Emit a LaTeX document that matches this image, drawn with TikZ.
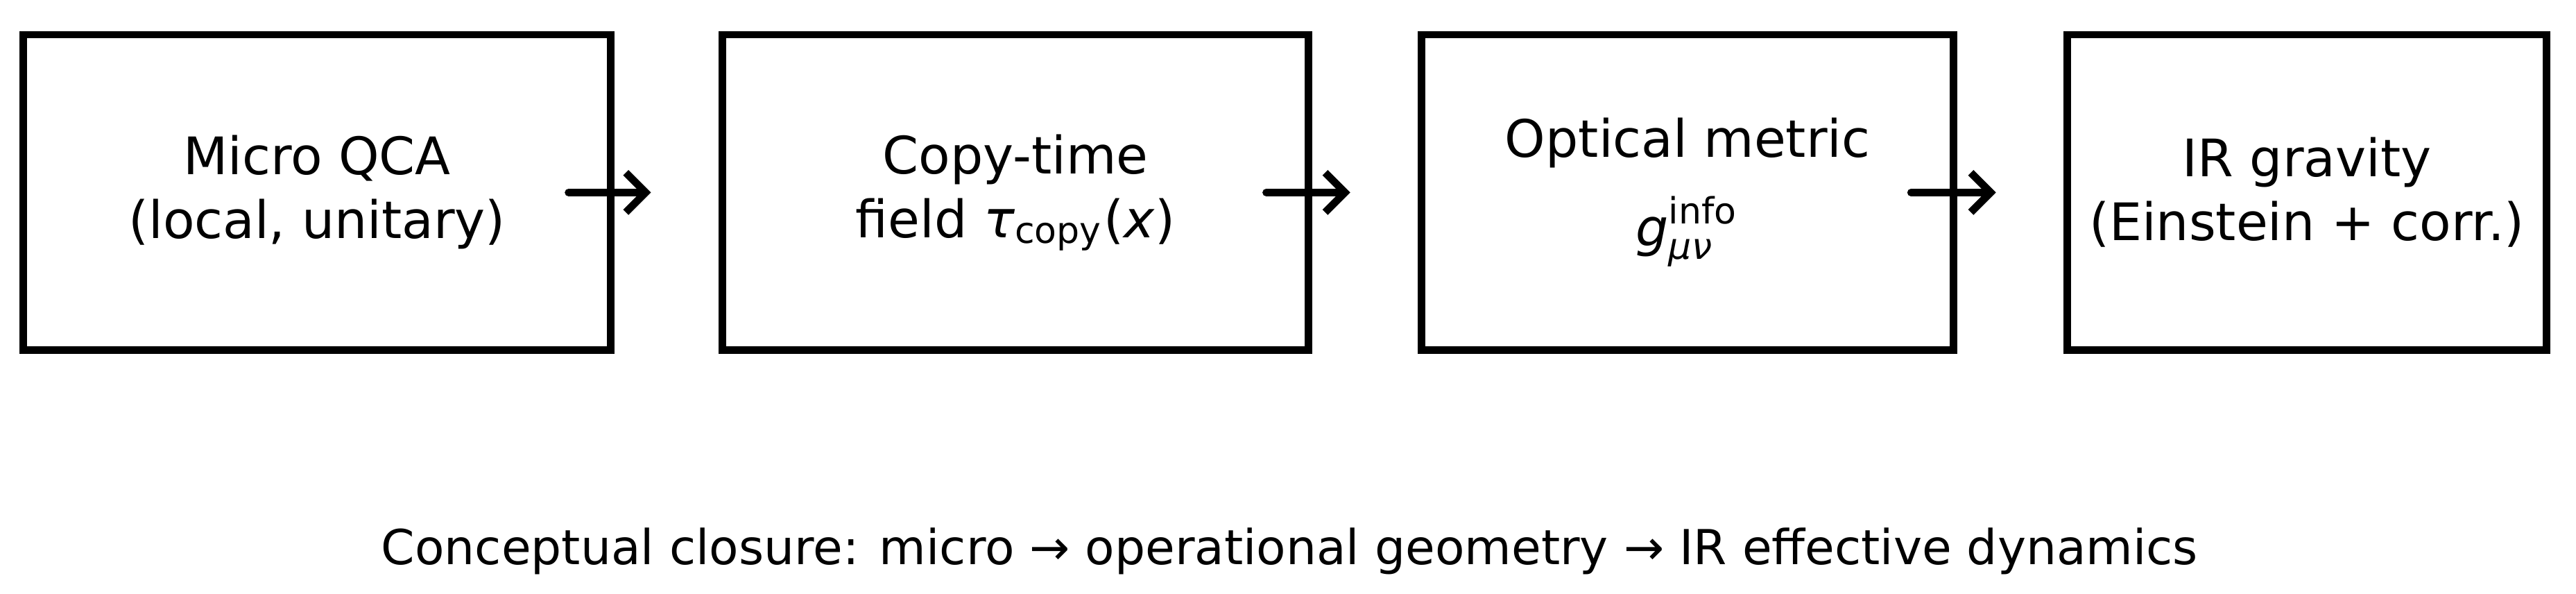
\documentclass[tikz,border=0pt]{standalone}
\usepackage{amsmath}
\usepackage{fontspec}
\setmainfont{DejaVu Sans}
\usetikzlibrary{positioning,calc,arrows.meta}
\begin{document}
\begin{tikzpicture}[>={Straight Barb[length=1.2mm,width=2.4mm]},
		stagebox/.style={draw=black, line width=1.3pt, minimum height=19.1mm, align=center, inner sep=0pt, font=\fontsize{8.9}{11}\selectfont},
		flowArrow/.style={line width=1.3pt, ->, line cap=round, color=black}
		]
		\useasboundingbox (0,0) rectangle (15.6,3.595);
		\node [stagebox, minimum width=35.6mm] (micro) at (1.92,2.43) {Micro QCA\\(local, unitary)};
		\node [stagebox, minimum width=35.5mm] (copy) at (6.15,2.43) {Copy-time\\field \textit{τ}$_{\text{copy}}$(\textit{x})};
		\node [stagebox, minimum width=32.2mm] (optic) at (10.22,2.43) {Optical metric\\[1.5mm]$\textit{g}^{\text{info}}_{\textit{μν}}$};
		\node [stagebox, minimum width=29.0mm] (irgrav) at (13.97,2.43) {IR gravity\\(Einstein + corr.)};
		
		% arrows between stages
		\coordinate (a1s) at ($(micro.east)+(-0.28,0)$);
		\coordinate (a1e) at ($(copy.west)+(-0.41,0)$);
		\coordinate (a2s) at ($(copy.east)+(-0.28,0)$);
		\coordinate (a2e) at ($(optic.west)+(-0.41,0)$);
		\coordinate (a3s) at ($(optic.east)+(-0.28,0)$);
		\coordinate (a3e) at ($(irgrav.west)+(-0.41,0)$);
		\draw [flowArrow] (a1s) -- (a1e);
		\draw [flowArrow] (a2s) -- (a2e);
		\draw [flowArrow] (a3s) -- (a3e);
		
		\node [font=\fontsize{8.3}{10}\selectfont] (caption) at (7.81,0.26) {Conceptual closure: micro → operational geometry → IR effective dynamics};
\end{tikzpicture}
\end{document}
